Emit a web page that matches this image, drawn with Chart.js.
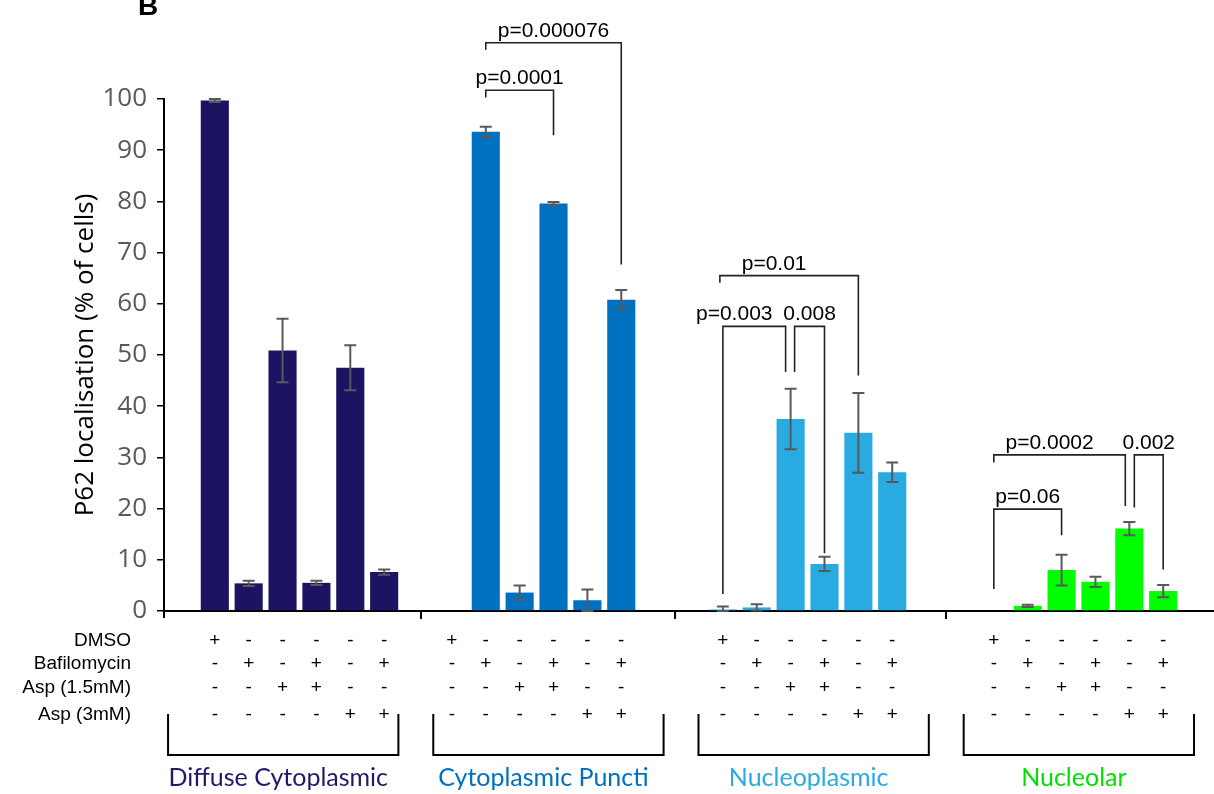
<!DOCTYPE html>
<html>
<head>
<meta charset="utf-8">
<script src="https://cdn.jsdelivr.net/npm/chart.js@4.4.0/dist/chart.umd.min.js"></script>
<style>
body { margin: 0; background: #fff; }
</style>
</head>
<body>
<canvas id="myChart" width="1214" height="794"></canvas>
<script>
// Groups and conditions
var groups = ['Diffuse Cytoplasmic', 'Cytoplasmic Puncti', 'Nucleoplasmic', 'Nucleolar'];
var groupColors = ['#1c1463', '#0070c0', '#29abe2', '#00ff00'];
var labelColors = ['#1f1a6b', '#0070c0', '#29abe2', '#00e000'];

// Bar values (% of cells) and error (+/-) per group, 6 conditions each
var diffuse = [99.7, 5.4, 50.9, 5.5, 47.5, 7.6];
var diffuseErr = [0.3, 0.5, 6.2, 0.4, 4.4, 0.5];
var puncti = [0, 93.6, 3.6, 79.6, 2.1, 60.8];
var punctiErr = [0, 1.0, 1.4, 0.3, 2.1, 1.9];
var nucleoplasmic = [0.3, 0.7, 37.5, 9.2, 34.8, 27.1];
var nucleoplasmicErr = [0.6, 0.6, 5.9, 1.4, 7.8, 1.9];
var nucleolar = [0, 1.0, 8.0, 5.7, 16.1, 3.9];
var nucleolarErr = [0, 0.2, 3.0, 1.0, 1.3, 1.2];

var values = [diffuse, puncti, nucleoplasmic, nucleolar];
var errors = [diffuseErr, punctiErr, nucleoplasmicErr, nucleolarErr];

// y axis ticks
var yTicks = [0, 10, 20, 30, 40, 50, 60, 70, 80, 90, 100];

// treatment table below the axis
var rowLabels = ['DMSO', 'Bafilomycin', 'Asp (1.5mM)', 'Asp (3mM)'];
var dmso        = ['+', '-', '-', '-', '-', '-'];
var bafilomycin = ['-', '+', '-', '+', '-', '+'];
var asp15       = ['-', '-', '+', '+', '-', '-'];
var asp3        = ['-', '-', '-', '-', '+', '+'];
var signRows = [dmso, bafilomycin, asp15, asp3];

// significance brackets: group, bars from/to, level and leg ends in y units
var brackets = [
    {g: 1, a: 1, b: 3, level: 101.7, endA: 100.3, endB: 92.9, label: 'p=0.0001'},
    {g: 1, a: 1, b: 5, level: 111.0, endA: 109.6, endB: 67.7, label: 'p=0.000076'},
    {g: 2, a: 0, b: 2, level: 55.6, endA: 3.3, endB: 46.7, label: 'p=0.003', dxB: -5, dxT: -20},
    {g: 2, a: 2, b: 3, level: 55.6, endA: 46.7, endB: 11.3, label: '0.008', dxA: 4},
    {g: 2, a: 0, b: 4, level: 65.5, endA: 64.1, endB: 46.0, label: 'p=0.01', dxA: -3, dxT: -15},
    {g: 3, a: 0, b: 2, level: 19.9, endA: 4.3, endB: 14.8, label: 'p=0.06'},
    {g: 3, a: 0, b: 4, level: 30.5, endA: 29.0, endB: 20.5, label: 'p=0.0002', dxB: -4, dxT: -10},
    {g: 3, a: 4, b: 5, level: 30.5, endA: 20.2, endB: 8.1, label: '0.002', dxA: 5}
];

// category slots: empty slots give the gaps between groups
var nSlots = 31;
var groupStart = [1, 8, 16, 24];

var slotLabels = [];
for (var i = 0; i < nSlots; i++) slotLabels.push('');
groups.forEach(function(name, g) {
    for (var k = 0; k < 6; k++) slotLabels[groupStart[g] + k] = name + ' ' + (k + 1);
});

var datasets = groups.map(function(name, g) {
    var data = [], errs = [];
    for (var i = 0; i < nSlots; i++) { data.push(null); errs.push(null); }
    for (var k = 0; k < 6; k++) {
        data[groupStart[g] + k] = values[g][k];
        errs[groupStart[g] + k] = errors[g][k];
    }
    return {
        label: name,
        data: data,
        errors: errs,
        backgroundColor: groupColors[g],
        borderWidth: 0,
        grouped: false,
        categoryPercentage: 1,
        barPercentage: 0.83
    };
});

function barX(chart, g, k) {
    return chart.getDatasetMeta(g).data[groupStart[g] + k].x;
}

// error bars
var errorBars = {
    id: 'errorBars',
    afterDatasetsDraw: function(chart) {
        var c = chart.ctx, y = chart.scales.y;
        c.save();
        c.strokeStyle = '#595959';
        c.lineWidth = 2;
        chart.data.datasets.forEach(function(ds, d) {
            var meta = chart.getDatasetMeta(d);
            ds.data.forEach(function(v, i) {
                var e = ds.errors[i];
                if (v === null || !e) return;
                var x = meta.data[i].x;
                var top = y.getPixelForValue(v + e);
                var bot = y.getPixelForValue(Math.max(v - e, 0));
                c.beginPath();
                c.moveTo(x, top); c.lineTo(x, bot);
                c.moveTo(x - 6, top); c.lineTo(x + 6, top);
                c.moveTo(x - 6, bot); c.lineTo(x + 6, bot);
                c.stroke();
            });
        });
        c.restore();
    }
};

// brackets, treatment table, group labels
var annotations = {
    id: 'annotations',
    afterDraw: function(chart) {
        var c = chart.ctx, y = chart.scales.y, area = chart.chartArea;
        var slot = (area.right - area.left) / nSlots;
        c.save();

        // panel letter
        c.fillStyle = '#000';
        c.font = 'bold 28px "Liberation Sans", Arial, sans-serif';
        c.textAlign = 'left';
        c.textBaseline = 'alphabetic';
        c.fillText('B', 138, 15);

        // y axis runs a little below the x axis, small ticks between groups
        c.strokeStyle = '#000';
        c.lineWidth = 2;
        c.beginPath();
        c.moveTo(area.left, area.bottom); c.lineTo(area.left, area.bottom + 7);
        for (var g = 0; g < 3; g++) {
            var xm = (barX(chart, g, 5) + barX(chart, g + 1, 0)) / 2 + 3;
            c.moveTo(xm, area.bottom); c.lineTo(xm, area.bottom + 8);
        }
        c.stroke();

        // significance brackets
        c.strokeStyle = '#222';
        c.lineWidth = 1.6;
        c.fillStyle = '#000';
        c.font = '21px "Liberation Sans", Arial, sans-serif';
        c.textAlign = 'center';
        brackets.forEach(function(b) {
            var xa = barX(chart, b.g, b.a) + (b.dxA || 0);
            var xb = barX(chart, b.g, b.b) + (b.dxB || 0);
            var yl = y.getPixelForValue(b.level);
            c.beginPath();
            c.moveTo(xa, y.getPixelForValue(b.endA));
            c.lineTo(xa, yl);
            c.lineTo(xb, yl);
            c.lineTo(xb, y.getPixelForValue(b.endB));
            c.stroke();
            c.fillText(b.label, (xa + xb) / 2 + (b.dxT || 0), yl - 6);
        });

        // treatment table
        var rowY = [641, 664, 688, 715];
        c.font = '19px "Liberation Sans", Arial, sans-serif';
        c.textBaseline = 'middle';
        rowLabels.forEach(function(name, r) {
            c.textAlign = 'right';
            c.fillText(name, area.left - 33, rowY[r]);
            c.textAlign = 'center';
            for (var g = 0; g < groups.length; g++) {
                for (var k = 0; k < 6; k++) {
                    c.fillText(signRows[r][k], barX(chart, g, k), rowY[r]);
                }
            }
        });

        // group brackets and names
        c.strokeStyle = '#000';
        c.lineWidth = 2;
        c.font = '25px Lato, "Open Sans", sans-serif';
        c.textBaseline = 'alphabetic';
        c.textAlign = 'center';
        for (var g = 0; g < groups.length; g++) {
            var left = area.left + slot * (0.12 + g * 7.83);
            var right = left + slot * 6.8;
            c.beginPath();
            c.moveTo(left, 714); c.lineTo(left, 755);
            c.lineTo(right, 755); c.lineTo(right, 714);
            c.stroke();
            c.fillStyle = labelColors[g];
            c.fillText(groups[g], (left + right) / 2 - 5, 786);
        }
        c.restore();
    }
};

var ctx = document.getElementById('myChart').getContext('2d');
var myChart = new Chart(ctx, {
    type: 'bar',
    data: {
        labels: slotLabels,
        datasets: datasets
    },
    options: {
        responsive: false,
        animation: false,
        layout: {
            padding: {top: 99, left: 70, right: 0, bottom: 175}
        },
        scales: {
            x: {
                z: 1,
                grid: { display: false },
                ticks: { display: false },
                border: { display: true, color: '#000', width: 2 }
            },
            y: {
                min: 0,
                max: 100,
                afterFit: function(scale) { scale.width = 94; },
                afterBuildTicks: function(scale) {
                    scale.ticks = yTicks.map(function(v) { return {value: v}; });
                },
                grid: {
                    drawOnChartArea: false,
                    drawTicks: true,
                    tickLength: 7,
                    color: '#000',
                    lineWidth: 1.5
                },
                border: { display: true, color: '#000', width: 2 },
                ticks: {
                    padding: 10,
                    color: '#595959',
                    font: { family: '"Open Sans", sans-serif', size: 26 }
                },
                title: {
                    display: true,
                    text: 'P62 localisation (% of cells)',
                    color: '#000',
                    padding: {top: 0, bottom: 4},
                    font: { family: '"Open Sans", sans-serif', size: 26 }
                }
            }
        },
        plugins: {
            legend: { display: false },
            tooltip: { enabled: false }
        }
    },
    plugins: [errorBars, annotations]
});
</script>
</body>
</html>
